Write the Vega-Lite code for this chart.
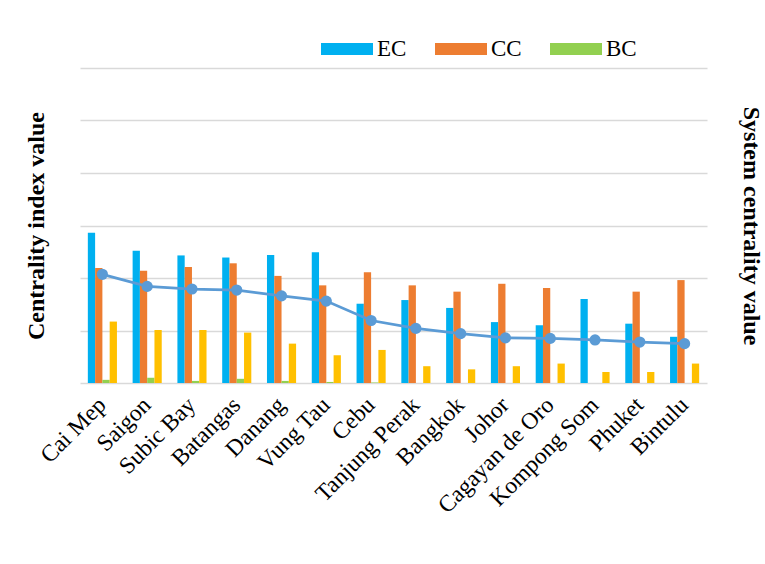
{
  "$schema": "https://vega.github.io/schema/vega-lite/v6.json",
  "width": 627,
  "height": 315,
  "autosize": "none",
  "padding": {"left": 80, "top": 68, "right": 58, "bottom": 181},
  "background": "white",
  "config": {
    "view": {"stroke": null},
    "font": "Liberation Serif"
  },
  "datasets": {
    "bars": [
      {"port": "Cai Mep", "series": "EC", "value": 0.286},
      {"port": "Cai Mep", "series": "CC", "value": 0.219},
      {"port": "Cai Mep", "series": "BC", "value": 0.006},
      {"port": "Cai Mep", "series": "Other", "value": 0.117},
      {"port": "Saigon", "series": "EC", "value": 0.252},
      {"port": "Saigon", "series": "CC", "value": 0.214},
      {"port": "Saigon", "series": "BC", "value": 0.010},
      {"port": "Saigon", "series": "Other", "value": 0.101},
      {"port": "Subic Bay", "series": "EC", "value": 0.243},
      {"port": "Subic Bay", "series": "CC", "value": 0.221},
      {"port": "Subic Bay", "series": "BC", "value": 0.004},
      {"port": "Subic Bay", "series": "Other", "value": 0.101},
      {"port": "Batangas", "series": "EC", "value": 0.239},
      {"port": "Batangas", "series": "CC", "value": 0.228},
      {"port": "Batangas", "series": "BC", "value": 0.008},
      {"port": "Batangas", "series": "Other", "value": 0.096},
      {"port": "Danang", "series": "EC", "value": 0.244},
      {"port": "Danang", "series": "CC", "value": 0.204},
      {"port": "Danang", "series": "BC", "value": 0.004},
      {"port": "Danang", "series": "Other", "value": 0.075},
      {"port": "Vung Tau", "series": "EC", "value": 0.249},
      {"port": "Vung Tau", "series": "CC", "value": 0.186},
      {"port": "Vung Tau", "series": "BC", "value": 0.002},
      {"port": "Vung Tau", "series": "Other", "value": 0.053},
      {"port": "Cebu", "series": "EC", "value": 0.151},
      {"port": "Cebu", "series": "CC", "value": 0.211},
      {"port": "Cebu", "series": "BC", "value": 0.001},
      {"port": "Cebu", "series": "Other", "value": 0.063},
      {"port": "Tanjung Perak", "series": "EC", "value": 0.158},
      {"port": "Tanjung Perak", "series": "CC", "value": 0.186},
      {"port": "Tanjung Perak", "series": "BC", "value": 0.0},
      {"port": "Tanjung Perak", "series": "Other", "value": 0.032},
      {"port": "Bangkok", "series": "EC", "value": 0.143},
      {"port": "Bangkok", "series": "CC", "value": 0.174},
      {"port": "Bangkok", "series": "BC", "value": 0.0},
      {"port": "Bangkok", "series": "Other", "value": 0.026},
      {"port": "Johor", "series": "EC", "value": 0.116},
      {"port": "Johor", "series": "CC", "value": 0.189},
      {"port": "Johor", "series": "BC", "value": 0.0},
      {"port": "Johor", "series": "Other", "value": 0.032},
      {"port": "Cagayan de Oro", "series": "EC", "value": 0.110},
      {"port": "Cagayan de Oro", "series": "CC", "value": 0.181},
      {"port": "Cagayan de Oro", "series": "BC", "value": 0.0},
      {"port": "Cagayan de Oro", "series": "Other", "value": 0.037},
      {"port": "Kompong Som", "series": "EC", "value": 0.160},
      {"port": "Kompong Som", "series": "CC", "value": 0.0},
      {"port": "Kompong Som", "series": "BC", "value": 0.0},
      {"port": "Kompong Som", "series": "Other", "value": 0.021},
      {"port": "Phuket", "series": "EC", "value": 0.113},
      {"port": "Phuket", "series": "CC", "value": 0.174},
      {"port": "Phuket", "series": "BC", "value": 0.0},
      {"port": "Phuket", "series": "Other", "value": 0.021},
      {"port": "Bintulu", "series": "EC", "value": 0.088},
      {"port": "Bintulu", "series": "CC", "value": 0.196},
      {"port": "Bintulu", "series": "BC", "value": 0.0},
      {"port": "Bintulu", "series": "Other", "value": 0.037}
    ],
    "sys": [
      {"port": "Cai Mep", "system": 0.207},
      {"port": "Saigon", "system": 0.184},
      {"port": "Subic Bay", "system": 0.179},
      {"port": "Batangas", "system": 0.177},
      {"port": "Danang", "system": 0.166},
      {"port": "Vung Tau", "system": 0.156},
      {"port": "Cebu", "system": 0.119},
      {"port": "Tanjung Perak", "system": 0.104},
      {"port": "Bangkok", "system": 0.094},
      {"port": "Johor", "system": 0.086},
      {"port": "Cagayan de Oro", "system": 0.085},
      {"port": "Kompong Som", "system": 0.082},
      {"port": "Phuket", "system": 0.078},
      {"port": "Bintulu", "system": 0.075}
    ]
  },
  "encoding": {
    "x": {
      "field": "port",
      "type": "nominal",
      "sort": null,
      "scale": {"paddingInner": 0.35, "paddingOuter": 0.175},
      "axis": {
        "title": null,
        "labelAngle": -45,
        "labelAlign": "right",
        "labelBaseline": "middle",
        "labelFont": "Liberation Serif",
        "labelFontSize": 23.5,
        "labelColor": "black",
        "labelPadding": 18,
        "labelDx": 2,
        "ticks": false,
        "domain": true,
        "domainColor": "#d9d9d9",
        "domainWidth": 1.5,
        "grid": false
      }
    }
  },
  "layer": [
    {
      "data": {"name": "bars"},
      "mark": {"type": "bar"},
      "encoding": {
        "xOffset": {"field": "series", "type": "nominal", "sort": ["EC", "CC", "BC", "Other"]},
        "y": {
          "field": "value",
          "type": "quantitative",
          "scale": {"domain": [0, 0.6]},
          "axis": {
            "title": "Centrality index value",
            "titleFont": "Liberation Serif",
            "titleFontSize": 24,
            "titleFontWeight": "bold",
            "titleColor": "black",
            "titlePadding": 32,
            "labels": false,
            "ticks": false,
            "domain": false,
            "grid": true,
            "gridColor": "#d9d9d9",
            "gridWidth": 1.5,
            "values": [0.1, 0.2, 0.3, 0.4, 0.5, 0.6]
          }
        },
        "color": {
          "field": "series",
          "type": "nominal",
          "scale": {
            "domain": ["EC", "CC", "BC", "Other"],
            "range": ["#00b0f0", "#ed7d31", "#92d050", "#ffc000"]
          },
          "legend": {
            "values": ["EC", "CC", "BC"],
            "title": null,
            "orient": "none",
            "direction": "horizontal",
            "legendX": 241,
            "legendY": -45,
            "symbolType": "M-1,-0.23H1V0.23H-1Z",
            "symbolSize": 2704,
            "symbolStrokeWidth": 0,
            "symbolOpacity": 1,
            "labelFont": "Liberation Serif",
            "labelFontSize": 23,
            "labelColor": "black",
            "labelOffset": 4,
            "columnPadding": 28
          }
        }
      }
    },
    {
      "data": {"name": "sys"},
      "mark": {"type": "line", "color": "#5b9bd5", "strokeWidth": 2.75, "point": {"filled": true, "size": 125, "color": "#5b9bd5", "opacity": 1}},
      "encoding": {
        "y": {
          "field": "system",
          "type": "quantitative",
          "scale": {"domain": [0, 0.6]},
          "axis": {
            "orient": "right",
            "title": "System centrality value",
            "titleFont": "Liberation Serif",
            "titleFontSize": 24,
            "titleFontWeight": "bold",
            "titleColor": "black",
            "titlePadding": 31,
            "labels": false,
            "ticks": false,
            "domain": false,
            "grid": false
          }
        }
      }
    }
  ],
  "resolve": {"scale": {"y": "independent"}}
}
